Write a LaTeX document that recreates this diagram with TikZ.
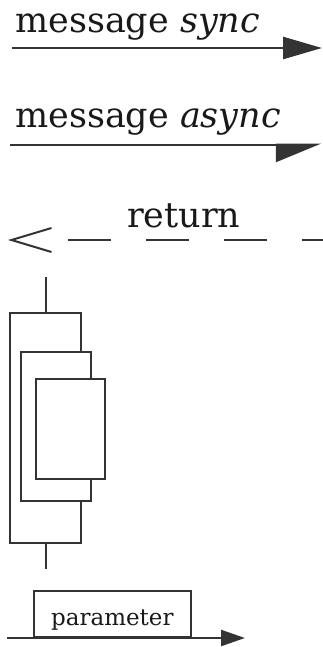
\documentclass[tikz,border=0pt]{standalone}
\usepackage{fontspec}
\setmainfont{DejaVu Serif}
\usetikzlibrary{arrows.meta,positioning}
\begin{document}
\begin{tikzpicture}[x=1pt,y=-1pt,
    msg/.style={line width=2.6pt,draw=black!80},
    lbl/.style={inner sep=0pt,anchor=base west,font=\fontsize{35}{40}\selectfont,text=black!90},
    act/.style={draw=black!80,line width=2pt,fill=white,inner sep=0pt,anchor=north west}]
    \useasboundingbox (0,0) rectangle (323,647);
    % synchronous message
    \node[lbl] (synctxt) at (15,33) {message \textit{sync}};
    \coordinate (syncL) at (12,48);
    \coordinate (syncR) at (322,48);
    \draw[msg,-{Triangle[length=39pt,width=22pt]}] (syncL)--(syncR);
    % asynchronous message
    \node[lbl] (asynctxt) at (15,128) {message \textit{async}};
    \coordinate (asyncL) at (10,145);
    \coordinate (asyncR) at (321,145);
    \draw[msg,-{Triangle[right,length=42pt,width=34pt]}] (asyncL)--(asyncR);
    % return
    \node[lbl] (rettxt) at (127,227) {return};
    \coordinate (retR) at (323,240);
    \coordinate (retL) at (8,240);
    \draw[line width=2pt,draw=black!80,
      dash pattern=on 21pt off 35pt on 43pt off 35pt on 43pt off 35pt on 43pt off 120pt,
      -{Straight Barb[length=40pt,width=24pt]}] (retR)--(retL);
    % nested activations
    \node[act,minimum width=71pt,minimum height=230pt] (outer) at (9,312) {};
    \node[act,minimum width=70pt,minimum height=149pt] (middle) at (20,351) {};
    \node[act,minimum width=69pt,minimum height=100pt] (inner) at (35,378) {};
    \coordinate (lifetop) at ([yshift=35pt]outer.north);
    \coordinate (lifebot) at ([yshift=-25pt]outer.south);
    \draw[draw=black!80,line width=2pt] (lifetop)--(outer.north);
    \draw[draw=black!80,line width=2pt] (outer.south)--(lifebot);
    % message with parameter
    \node[draw=black!80,line width=1.8pt,minimum width=157pt,minimum height=46pt,
      inner sep=0pt,anchor=south west] (parbox) at (33,638) {};
    \node[inner sep=0pt,anchor=base,font=\fontsize{23}{26}\selectfont,text=black!90]
      (partxt) at ([yshift=13pt]parbox.south) {parameter};
    \coordinate (parL) at (7,638);
    \coordinate (parR) at (245,638);
    \draw[msg,line width=2.2pt,-{Triangle[length=24pt,width=16pt]}] (parL)--(parR);
\end{tikzpicture}
\end{document}
